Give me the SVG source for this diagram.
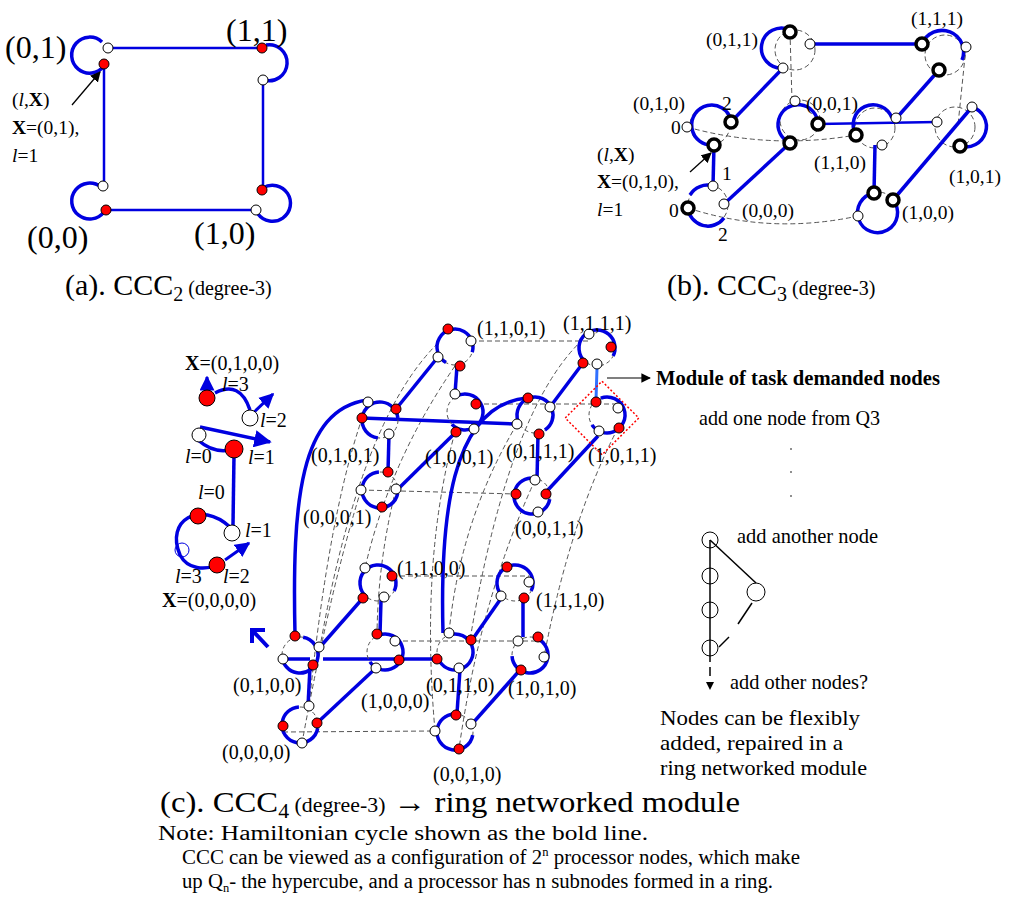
<svg xmlns="http://www.w3.org/2000/svg" width="1024" height="917" viewBox="0 0 1024 917">
<defs>
<style>
text{font-family:"Liberation Serif","Times New Roman",serif;fill:#000}
.b{stroke:#0000e0;stroke-width:3.5;fill:none}
.bl{stroke:#0000e0;stroke-width:2.5;fill:none}
.d{stroke:#555;stroke-width:1;stroke-dasharray:5 3;fill:none}
.w{fill:#fff;stroke:#000;stroke-width:1}
.r{fill:#f00;stroke:#000;stroke-width:1}
.k{fill:#fff;stroke:#000;stroke-width:3.5}
.ring{stroke:#0000e0;stroke-width:3.5;fill:none;stroke-dasharray:80 33}
.dr{stroke:#555;stroke-width:1;stroke-dasharray:4 3;fill:none}
.t17{font-size:20px}
.t18{font-size:19.5px}
.t21{font-size:21px}
</style>
<marker id="ah" viewBox="0 0 10 10" refX="9" refY="5" markerWidth="8" markerHeight="8" orient="auto-start-reverse"><path d="M0,0L10,5L0,10z" fill="#000"/></marker>
<marker id="bh" viewBox="0 0 10 10" refX="9" refY="5" markerWidth="5" markerHeight="5" orient="auto"><path d="M0,0L10,5L0,10z" fill="#0000e0"/></marker>
</defs>

<!-- (a) -->
<g id="a-edges">
<line class="bl" x1="112" y1="48" x2="258" y2="48"/>
<line class="bl" x1="104" y1="64" x2="104" y2="186"/>
<line class="bl" x1="110" y1="210" x2="255" y2="210"/>
<line class="bl" x1="263" y1="80" x2="263" y2="190"/>
<path class="b" d="M102,42 A18,18 0 1 0 104,66"/>
<path class="b" d="M266,45 A18,18 0 1 1 264,80"/>
<path class="b" d="M101,187 A18,18 0 1 0 104,212"/>
<path class="b" d="M263,188 A18,18 0 1 1 258,214"/>
<line x1="72" y1="105" x2="100" y2="72" stroke="#000" stroke-width="1.3" marker-end="url(#ah)"/>
</g>
<g id="a-nodes">
<circle class="w" cx="108" cy="48" r="5"/><circle class="r" cx="104" cy="64" r="5"/>
<circle class="r" cx="262" cy="48" r="5"/><circle class="w" cx="263" cy="80" r="5"/>
<circle class="w" cx="103" cy="186" r="5"/><circle class="r" cx="106" cy="210" r="5"/>
<circle class="w" cx="256" cy="210" r="5"/><circle class="r" cx="262" cy="190" r="5"/>
</g>
<g id="a-labels">
<text x="5" y="58" font-size="32">(0,1)</text>
<text x="226" y="41" font-size="32">(1,1)</text>
<text x="27" y="248" font-size="32">(0,0)</text>
<text x="194" y="244" font-size="32">(1,0)</text>
<text x="12" y="106" class="t18">(<tspan font-style="italic">l</tspan>,<tspan font-weight="bold">X</tspan>)</text>
<text x="12" y="134" class="t18"><tspan font-weight="bold">X</tspan>=(0,1),</text>
<text x="12" y="162" class="t18"><tspan font-style="italic">l</tspan>=1</text>
<text x="65" y="295" font-size="30">(a). CCC<tspan font-size="20" dy="6">2</tspan><tspan font-size="20" dy="-6"> (degree-3)</tspan></text>
</g>

<!-- (b) -->
<g id="b-edges">
<line class="d" x1="790" y1="32" x2="792" y2="101"/>
<line class="d" x1="966" y1="47" x2="958" y2="125"/>
<path class="d" d="M687,127 Q770,150 856,135"/>
<path class="d" d="M688,208 Q770,235 858,216"/>
<circle class="d" cx="795" cy="50" r="20"/>
<circle class="d" cx="945" cy="55" r="20"/>
<circle class="d" cx="710" cy="125" r="20"/>
<circle class="d" cx="800" cy="120" r="20"/>
<circle class="d" cx="875" cy="128" r="20"/>
<circle class="d" cx="955" cy="127" r="20"/>
<circle class="d" cx="708" cy="205" r="20"/>
<circle class="d" cx="878" cy="212" r="20"/>
<path class="b" d="M790,30 A20,20 0 1 0 783,68"/>
<path class="b" d="M922,44 A20,20 0 1 1 962,60"/>
<path class="b" d="M731,120 A20,20 0 1 0 714,145"/>
<path class="b" d="M818,124 A20,20 0 1 0 790,143"/>
<path class="b" d="M856,135 A20,20 0 1 1 892,118"/>
<path class="b" d="M960,146 A20,20 0 1 0 972,107"/>
<path class="b" d="M688,208 A20,20 0 0 0 724,218"/>
<path class="b" d="M713,186 A20,20 0 0 0 690,195"/>
<path class="b" d="M874,193 A20,20 0 1 0 893,200"/>
<line class="b" x1="810" y1="44" x2="922" y2="44"/>
<line class="b" x1="731" y1="122" x2="783" y2="68"/>
<line class="b" x1="714" y1="145" x2="713" y2="186"/>
<line class="b" x1="724" y1="204" x2="790" y2="143"/>
<line class="bl" x1="818" y1="124" x2="937" y2="122"/>
<line class="b" x1="939" y1="70" x2="893" y2="122"/>
<line class="b" x1="875" y1="145" x2="874" y2="193"/>
<line class="b" x1="893" y1="200" x2="972" y2="107"/>
<line x1="690" y1="172" x2="711" y2="153" stroke="#000" stroke-width="1.3" marker-end="url(#ah)"/>
</g>
<g id="b-nodes">
<circle class="k" cx="790" cy="32" r="6"/><circle class="w" cx="810" cy="44" r="5"/><circle class="w" cx="783" cy="68" r="5"/>
<circle class="k" cx="922" cy="44" r="6"/><circle class="w" cx="966" cy="47" r="5"/><circle class="k" cx="939" cy="70" r="6"/>
<circle class="w" cx="687" cy="127" r="5"/><circle class="k" cx="731" cy="122" r="6"/><circle class="k" cx="714" cy="145" r="6"/>
<circle class="w" cx="795" cy="101" r="5"/><circle class="k" cx="818" cy="124" r="6"/><circle class="k" cx="790" cy="143" r="6"/>
<circle class="k" cx="856" cy="135" r="6"/><circle class="w" cx="882" cy="145" r="5"/><circle class="w" cx="896" cy="118" r="5"/>
<circle class="w" cx="937" cy="122" r="5"/><circle class="w" cx="972" cy="107" r="5"/><circle class="k" cx="960" cy="146" r="6"/>
<circle class="w" cx="713" cy="186" r="5"/><circle class="w" cx="724" cy="204" r="5"/><circle class="k" cx="688" cy="208" r="6"/>
<circle class="k" cx="874" cy="193" r="6"/><circle class="k" cx="893" cy="200" r="6"/><circle class="w" cx="858" cy="216" r="5"/>
</g>
<g id="b-labels" class="t18">
<text x="706" y="46">(0,1,1)</text>
<text x="911" y="25">(1,1,1)</text>
<text x="633" y="110">(0,1,0)</text>
<text x="722" y="110">2</text>
<text x="671" y="134">0</text>
<text x="806" y="110">(0,0,1)</text>
<text x="814" y="169">(1,1,0)</text>
<text x="949" y="183">(1,0,1)</text>
<text x="902" y="219">(1,0,0)</text>
<text x="742" y="217">(0,0,0)</text>
<text x="669" y="217">0</text>
<text x="718" y="241">2</text>
<text x="722" y="180">1</text>
<text x="597" y="161">(<tspan font-style="italic">l</tspan>,<tspan font-weight="bold">X</tspan>)</text>
<text x="597" y="188"><tspan font-weight="bold">X</tspan>=(0,1,0),</text>
<text x="597" y="216"><tspan font-style="italic">l</tspan>=1</text>
<text x="667" y="295" font-size="30">(b). CCC<tspan font-size="20" dy="6">3</tspan><tspan font-size="20" dy="-6"> (degree-3)</tspan></text>
</g>

<!-- (c) connectors -->
<g id="c-edges">
<g class="d">
<line x1="471" y1="341" x2="589" y2="341"/>
<line x1="476" y1="404" x2="618" y2="404"/>
<line x1="361" y1="490" x2="516" y2="494"/>
<line x1="392" y1="576" x2="529" y2="576"/>
<line x1="395" y1="641" x2="538" y2="641"/>
<line x1="283" y1="732" x2="435" y2="731"/>
<path d="M438,343 Q360,420 320,647"/>
<path d="M455,366 Q390,460 365,568"/>
<path d="M589,334 Q510,400 470,640"/>
<path d="M618,428 Q570,520 544,657"/>
<path d="M368,402 Q330,500 309,706"/>
<path d="M455,432 Q420,560 435,731"/>
<path d="M361,490 Q330,590 302,743"/>
<path d="M535,480 Q480,600 459,749"/>
<path d="M517,424 Q460,520 449,633"/>
<path d="M396,489 Q378,560 377,634"/>
</g>
<path class="b" d="M295,635 C292,500 300,410 367,400"/>
<path class="b" d="M443,633 C440,520 450,405 527,398"/>
<line class="b" x1="396" y1="409" x2="438" y2="357"/>
<line class="b" x1="457" y1="366" x2="455" y2="394"/>
<line class="b" x1="362" y1="418" x2="517" y2="424"/>
<line class="b" x1="389" y1="434" x2="388" y2="472"/>
<line class="b" x1="397" y1="490" x2="456" y2="432"/>
<line class="b" x1="550" y1="407" x2="583" y2="363"/>
<line x1="597" y1="368" x2="596" y2="400" stroke="#3070ff" stroke-width="3"/>
<line class="b" x1="538" y1="434" x2="537" y2="480"/>
<line class="b" x1="547" y1="491" x2="598" y2="436"/>
<line class="b" x1="310" y1="667" x2="308" y2="706"/>
<line class="b" x1="320" y1="647" x2="363" y2="598"/>
<line class="b" x1="381" y1="600" x2="380" y2="634"/>
<line class="b" x1="287" y1="659" x2="310" y2="659"/>
<line class="b" x1="323" y1="659" x2="437" y2="659"/>
<line class="b" x1="317" y1="723" x2="377" y2="667"/>
<line class="b" x1="472" y1="640" x2="502" y2="597"/>
<line class="b" x1="523" y1="600" x2="523" y2="637"/>
<line class="b" x1="460" y1="670" x2="457" y2="713"/>
<line class="b" x1="472" y1="724" x2="520" y2="670"/>
<line x1="607" y1="378" x2="650" y2="378" stroke="#000" stroke-width="1.2" marker-end="url(#ah)"/>
<rect x="576" y="392" width="52" height="52" transform="rotate(45 602 418)" fill="none" stroke="#f00" stroke-width="1.5" stroke-dasharray="2 2"/>
</g>

<!-- (c) rings -->
<g id="c-rings">
<g id="r1101"><circle class="dr" cx="455" cy="347" r="18"/><circle class="ring" cx="455" cy="347" r="18" transform="rotate(120 455 347)"/><circle class="r" cx="448" cy="329" r="5"/><circle class="w" cx="471" cy="341" r="5"/><circle class="w" cx="438" cy="357" r="5"/><circle class="r" cx="460" cy="366" r="5"/></g>
<g id="r1111"><circle class="dr" cx="597" cy="348" r="18"/><circle class="ring" cx="597" cy="348" r="18" transform="rotate(130 597 348)"/><circle class="w" cx="589" cy="334" r="5"/><circle class="r" cx="611" cy="347" r="5"/><circle class="r" cx="583" cy="363" r="5"/><circle class="w" cx="597" cy="364" r="5"/></g>
<g id="r0101"><circle class="dr" cx="380" cy="420" r="18"/><circle class="ring" cx="380" cy="420" r="18" transform="rotate(97 380 420)"/><circle class="w" cx="368" cy="402" r="5"/><circle class="r" cx="396" cy="409" r="5"/><circle class="r" cx="362" cy="418" r="5"/><circle class="w" cx="389" cy="434" r="5"/></g>
<g id="r1001"><circle class="dr" cx="465" cy="412" r="18"/><circle class="ring" cx="465" cy="412" r="18" transform="rotate(240 465 412)"/><circle class="w" cx="455" cy="394" r="5"/><circle class="r" cx="476" cy="404" r="5"/><circle class="r" cx="456" cy="432" r="5"/><circle class="w" cx="474" cy="429" r="5"/></g>
<g id="r0111"><circle class="dr" cx="535" cy="415" r="18"/><circle class="ring" cx="535" cy="415" r="18" transform="rotate(160 535 415)"/><circle class="r" cx="528" cy="398" r="5"/><circle class="w" cx="550" cy="407" r="5"/><circle class="w" cx="517" cy="424" r="5"/><circle class="r" cx="539" cy="434" r="5"/></g>
<g id="r1011"><circle class="dr" cx="607" cy="415" r="18"/><circle class="ring" cx="607" cy="415" r="18" transform="rotate(250 607 415)"/><circle class="r" cx="596" cy="402" r="5"/><circle class="w" cx="618" cy="408" r="5"/><circle class="w" cx="599" cy="431" r="5"/><circle class="r" cx="619" cy="428" r="5"/></g>
<g id="r0001"><circle class="dr" cx="380" cy="490" r="18"/><circle class="ring" cx="380" cy="490" r="18" transform="rotate(10 380 490)"/><circle class="r" cx="388" cy="472" r="5"/><circle class="w" cx="361" cy="490" r="5"/><circle class="w" cx="396" cy="489" r="5"/><circle class="r" cx="382" cy="507" r="5"/></g>
<g id="r0011"><circle class="dr" cx="532" cy="496" r="18"/><circle class="ring" cx="532" cy="496" r="18" transform="rotate(10 532 496)"/><circle class="w" cx="535" cy="480" r="5"/><circle class="r" cx="516" cy="494" r="5"/><circle class="r" cx="546" cy="494" r="5"/><circle class="w" cx="538" cy="512" r="5"/></g>
<g id="r1100"><circle class="dr" cx="378" cy="583" r="18"/><circle class="ring" cx="378" cy="583" r="18" transform="rotate(130 378 583)"/><circle class="w" cx="365" cy="568" r="5"/><circle class="r" cx="392" cy="576" r="5"/><circle class="r" cx="363" cy="598" r="5"/><circle class="w" cx="384" cy="597" r="5"/></g>
<g id="r1110"><circle class="dr" cx="515" cy="583" r="18"/><circle class="ring" cx="515" cy="583" r="18" transform="rotate(130 515 583)"/><circle class="r" cx="507" cy="567" r="5"/><circle class="w" cx="529" cy="582" r="5"/><circle class="w" cx="501" cy="596" r="5"/><circle class="r" cx="524" cy="598" r="5"/></g>
<g id="r0100"><circle class="dr" cx="300" cy="655" r="18"/><circle class="ring" cx="300" cy="655" r="18" transform="rotate(280 300 655)"/><circle class="r" cx="295" cy="636" r="5"/><circle class="w" cx="319" cy="647" r="5"/><circle class="w" cx="283" cy="659" r="5"/><circle class="r" cx="313" cy="665" r="5"/></g>
<g id="r1000"><circle class="dr" cx="385" cy="652" r="18"/><circle class="ring" cx="385" cy="652" r="18" transform="rotate(250 385 652)"/><circle class="r" cx="377" cy="634" r="5"/><circle class="w" cx="395" cy="641" r="5"/><circle class="r" cx="399" cy="660" r="5"/><circle class="w" cx="376" cy="668" r="5"/></g>
<g id="r0110"><circle class="dr" cx="455" cy="652" r="18"/><circle class="ring" cx="455" cy="652" r="18" transform="rotate(250 455 652)"/><circle class="w" cx="449" cy="633" r="5"/><circle class="r" cx="471" cy="640" r="5"/><circle class="r" cx="437" cy="659" r="5"/><circle class="w" cx="459" cy="668" r="5"/></g>
<g id="r1010"><circle class="dr" cx="530" cy="655" r="18"/><circle class="ring" cx="530" cy="655" r="18" transform="rotate(280 530 655)"/><circle class="w" cx="518" cy="641" r="5"/><circle class="r" cx="538" cy="637" r="5"/><circle class="w" cx="544" cy="657" r="5"/><circle class="r" cx="521" cy="670" r="5"/></g>
<g id="r0000"><circle class="dr" cx="300" cy="725" r="18"/><circle class="ring" cx="300" cy="725" r="18" transform="rotate(10 300 725)"/><circle class="w" cx="309" cy="706" r="5"/><circle class="r" cx="283" cy="726" r="5"/><circle class="r" cx="317" cy="723" r="5"/><circle class="w" cx="302" cy="743" r="5"/></g>
<g id="r0010"><circle class="dr" cx="455" cy="732" r="18"/><circle class="ring" cx="455" cy="732" r="18" transform="rotate(10 455 732)"/><circle class="r" cx="456" cy="715" r="5"/><circle class="w" cx="435" cy="731" r="5"/><circle class="w" cx="471" cy="724" r="5"/><circle class="r" cx="459" cy="749" r="5"/></g>
</g>

<!-- (c) labels -->
<g id="c-labels" class="t17">
<text x="477" y="335">(1,1,0,1)</text>
<text x="563" y="330">(1,1,1,1)</text>
<text x="311" y="462">(0,1,0,1)</text>
<text x="425" y="464">(1,0,0,1)</text>
<text x="506" y="458">(0,1,1,1)</text>
<text x="588" y="462">(1,0,1,1)</text>
<text x="303" y="524">(0,0,0,1)</text>
<text x="515" y="535">(0,0,1,1)</text>
<text x="397" y="575">(1,1,0,0)</text>
<text x="536" y="607">(1,1,1,0)</text>
<text x="233" y="692">(0,1,0,0)</text>
<text x="361" y="708">(1,0,0,0)</text>
<text x="426" y="692">(0,1,1,0)</text>
<text x="508" y="695">(1,0,1,0)</text>
<text x="222" y="759">(0,0,0,0)</text>
<text x="433" y="781">(0,0,1,0)</text>
</g>

<!-- left legend -->
<g id="legend">
<path class="b" d="M215,393 Q240,380 250,410"/>
<path class="b" d="M198,440 Q215,455 234,449"/>
<line class="b" x1="234" y1="455" x2="233" y2="525"/>
<path class="b" d="M230,527 C200,500 165,520 180,555 C188,570 205,570 217,565"/>
<line x1="207" y1="398" x2="207" y2="377" stroke="#0000e0" stroke-width="3" marker-end="url(#bh)"/>
<line x1="250" y1="416" x2="273" y2="394" stroke="#0000e0" stroke-width="3" marker-end="url(#bh)"/>
<line x1="200" y1="427" x2="270" y2="442" stroke="#0000e0" stroke-width="3.5" marker-end="url(#bh)"/>
<line x1="225" y1="560" x2="249" y2="543" stroke="#0000e0" stroke-width="3" marker-end="url(#bh)"/>
<path d="M252,643 L252,630 L265,630 M252,630 L268,647" stroke="#0000e0" stroke-width="4" fill="none"/>
<circle class="r" cx="207" cy="398" r="8"/>
<circle class="w" cx="250" cy="418" r="8"/>
<circle class="w" cx="199" cy="435" r="7"/>
<circle class="r" cx="234" cy="449" r="9"/>
<circle class="r" cx="198" cy="516" r="8"/>
<circle class="w" cx="232" cy="533" r="8"/>
<circle cx="182" cy="550" r="7" fill="none" stroke="#0000e0" stroke-width="1"/>
<circle class="r" cx="217" cy="565" r="8"/>
<g class="t17">
<text x="185" y="370"><tspan font-weight="bold">X</tspan>=(0,1,0,0)</text>
<text x="222" y="391"><tspan font-style="italic">l</tspan>=3</text>
<text x="260" y="427"><tspan font-style="italic">l</tspan>=2</text>
<text x="185" y="463"><tspan font-style="italic">l</tspan>=0</text>
<text x="248" y="464"><tspan font-style="italic">l</tspan>=1</text>
<text x="198" y="499"><tspan font-style="italic">l</tspan>=0</text>
<text x="245" y="537"><tspan font-style="italic">l</tspan>=1</text>
<text x="175" y="583"><tspan font-style="italic">l</tspan>=3</text>
<text x="223" y="583"><tspan font-style="italic">l</tspan>=2</text>
<text x="162" y="607"><tspan font-weight="bold">X</tspan>=(0,0,0,0)</text>
</g>
</g>

<!-- right side -->
<g id="module">
<circle class="w" cx="710" cy="540" r="8" fill="none"/>
<circle class="w" cx="710" cy="576" r="8" fill="none"/>
<circle class="w" cx="710" cy="610" r="8" fill="none"/>
<circle class="w" cx="710" cy="648" r="8" fill="none"/>
<circle class="w" cx="756" cy="592" r="9" fill="none"/>
<line x1="710" y1="540" x2="710" y2="662" stroke="#000" stroke-width="1.5"/>
<line x1="710" y1="540" x2="756" y2="583" stroke="#000" stroke-width="1.5"/>
<line x1="752" y1="603" x2="738" y2="624" stroke="#000" stroke-width="1.5"/>
<line x1="719" y1="647" x2="729" y2="637" stroke="#000" stroke-width="1.5"/>
<line x1="710" y1="667" x2="710" y2="676" stroke="#000" stroke-width="1.5"/>
<path d="M706,682 L714,682 L710,690 z" fill="#000"/>
<circle cx="791" cy="449" r="0.8" fill="#000"/>
<circle cx="791" cy="472" r="0.8" fill="#000"/>
<circle cx="791" cy="496" r="0.8" fill="#000"/>
<g class="t21">
<text x="656" y="385" font-weight="bold" textLength="284" lengthAdjust="spacingAndGlyphs">Module of task demanded  nodes</text>
<text x="699" y="425" textLength="181" lengthAdjust="spacingAndGlyphs">add one node from Q3</text>
<text x="737" y="543" textLength="141" lengthAdjust="spacingAndGlyphs">add another node</text>
<text x="730" y="689" textLength="138" lengthAdjust="spacingAndGlyphs">add other nodes?</text>
<text x="660" y="725" textLength="200" lengthAdjust="spacingAndGlyphs">Nodes can be flexibly</text>
<text x="660" y="750" textLength="183" lengthAdjust="spacingAndGlyphs">added, repaired in a</text>
<text x="660" y="775" textLength="207" lengthAdjust="spacingAndGlyphs">ring networked module</text>
</g>
</g>

<!-- caption -->
<g id="caption">
<text x="160" y="812" font-size="30" textLength="580" lengthAdjust="spacingAndGlyphs">(c). CCC<tspan font-size="20" dy="6">4</tspan><tspan font-size="20" dy="-6"> (degree-3)</tspan> → ring networked module</text>
<text x="158" y="840" font-size="20" textLength="490" lengthAdjust="spacingAndGlyphs">Note: Hamiltonian cycle shown as the bold line.</text>
<text x="182" y="864" font-size="20" textLength="618" lengthAdjust="spacingAndGlyphs">CCC can be viewed as a configuration of 2<tspan font-size="12" dy="-8">n</tspan><tspan dy="8"> processor nodes, which make</tspan></text>
<text x="182" y="888" font-size="20" textLength="591" lengthAdjust="spacingAndGlyphs">up Q<tspan font-size="12" dy="4">n</tspan><tspan dy="-4">- the hypercube, and a processor has n subnodes formed in a ring.</tspan></text>
</g>
</svg>
